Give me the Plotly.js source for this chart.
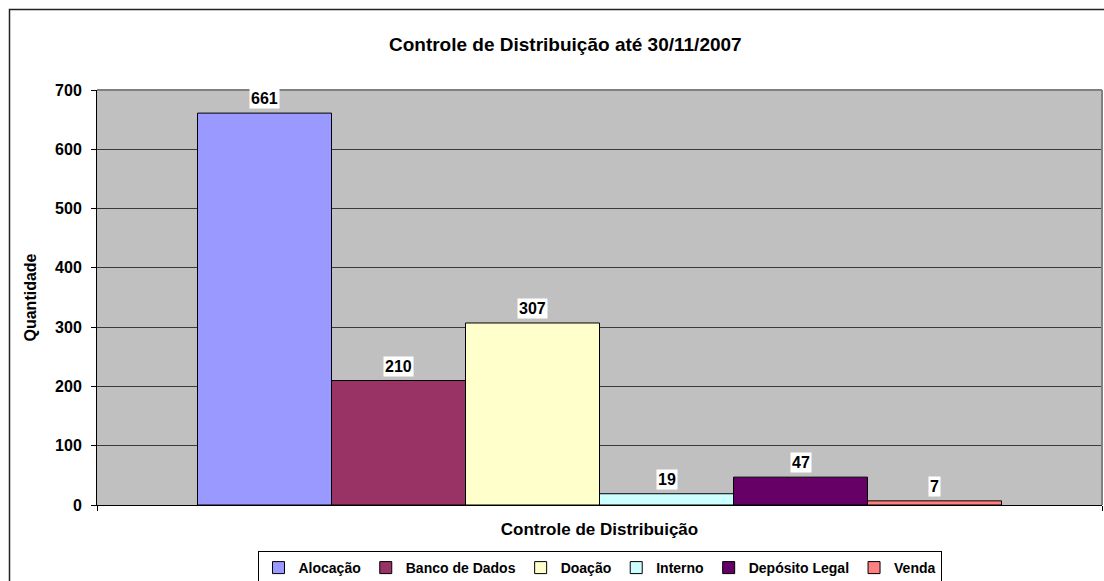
<!DOCTYPE html>
<html>
<head>
<meta charset="utf-8">
<script src="https://cdn.plot.ly/plotly-3.0.1.min.js"></script>
<style>
  html, body { margin: 0; padding: 0; background: #ffffff; overflow: hidden; }
  #chart { width: 1104px; height: 581px; }
</style>
</head>
<body>
<div id="chart"></div>
<script>
// ---- data ----
var categorias = ["Controle de Distribuição"];
var series = ["Alocação", "Banco de Dados", "Doação", "Interno", "Depósito Legal", "Venda"];
var valores = [661, 210, 307, 19, 47, 7];
var cores = ["#9999FF", "#993366", "#FFFFCC", "#CCFFFF", "#660066", "#FF8080"];
var yTicks = [0, 100, 200, 300, 400, 500, 600, 700];

var FONT = "Liberation Sans, Arial, sans-serif";
var BARGAP = 0.2;

var traces = series.map(function (nome, i) {
  return {
    type: "bar",
    name: nome,
    x: categorias,
    y: [valores[i]],
    marker: { color: cores[i], line: { color: "#000000", width: 1 } },
    hoverinfo: "name+y"
  };
});

// data labels with white background, placed at each bar's centre
var nSeries = series.length;
var groupW = 1 - BARGAP;
var annotations = valores.map(function (v, i) {
  return {
    xref: "x", yref: "y",
    x: -groupW / 2 + (i + 0.5) * groupW / nSeries,
    y: v,
    text: String(v),
    showarrow: false,
    yanchor: "bottom",
    yshift: 4,
    bgcolor: "#FFFFFF",
    borderpad: 1,
    font: { family: FONT, size: 16, color: "#000000", weight: "bold" }
  };
});

var layout = {
  width: 1104,
  height: 581,
  margin: { l: 97, r: 2, t: 90, b: 76, pad: 0, autoexpand: false },
  paper_bgcolor: "#FFFFFF",
  plot_bgcolor: "#C0C0C0",
  font: { family: FONT, color: "#000000", weight: "bold" },
  title: {
    text: "<b>Controle de Distribuição até 30/11/2007</b>",
    font: { family: FONT, size: 19, color: "#000000" },
    xref: "paper", x: 0.466, xanchor: "center",
    yref: "container", y: 1 - 44 / 581, yanchor: "middle"
  },
  barmode: "group",
  bargap: BARGAP,
  bargroupgap: 0,
  showlegend: true,
  legend: {
    orientation: "h",
    xref: "paper", x: 0.5, xanchor: "center",
    yref: "container", y: 1 - 551 / 581, yanchor: "top",
    bordercolor: "#000000", borderwidth: 1,
    bgcolor: "#FFFFFF",
    font: { family: FONT, size: 14, color: "#000000", weight: "bold" },
    itemwidth: 30,
    traceorder: "normal"
  },
  xaxis: {
    type: "category",
    range: [-0.5, 0.5],
    automargin: false,
    showgrid: false,
    zeroline: false,
    showline: true, linecolor: "#000000", linewidth: 1,
    ticks: "outside", tickson: "boundaries", ticklen: 5, tickcolor: "#000000",
    showticklabels: true,
    ticklabelstandoff: 9,
    tickfont: { family: FONT, size: 17, color: "#000000", weight: "bold" },
    fixedrange: true
  },
  yaxis: {
    range: [0, 700],
    automargin: false,
    tickvals: yTicks,
    ticktext: yTicks.map(String),
    showgrid: true, gridcolor: "#3A3A3A", gridwidth: 1,
    zeroline: false,
    showline: true, linecolor: "#000000", linewidth: 1,
    ticks: "outside", ticklen: 5, tickcolor: "#000000",
    ticklabelstandoff: 6,
    tickfont: { family: FONT, size: 16, color: "#000000", weight: "bold" },
    title: {
      text: "<b>Quantidade</b>",
      font: { family: FONT, size: 16, color: "#000000" },
      standoff: 14
    },
    fixedrange: true
  },
  annotations: annotations,
  shapes: [
    // plot area border (top and right, grey)
    { type: "line", xref: "paper", yref: "paper", x0: 0, x1: 1, y0: 1, y1: 1,
      line: { color: "#808080", width: 2 }, layer: "above" },
    { type: "line", xref: "paper", yref: "paper", x0: 1, x1: 1, y0: 0, y1: 1,
      line: { color: "#808080", width: 2 }, layer: "above" },
    // outer chart border
    { type: "rect", xref: "paper", yref: "paper",
      x0: (9.5 - 97) / 1005, x1: 1.3, y0: -0.6, y1: (505 - 9.5) / 415,
      line: { color: "#222222", width: 1.5 }, fillcolor: "rgba(0,0,0,0)", layer: "below" }
  ]
};

Plotly.newPlot("chart", traces, layout, { displayModeBar: false, staticPlot: true });
</script>
</body>
</html>
